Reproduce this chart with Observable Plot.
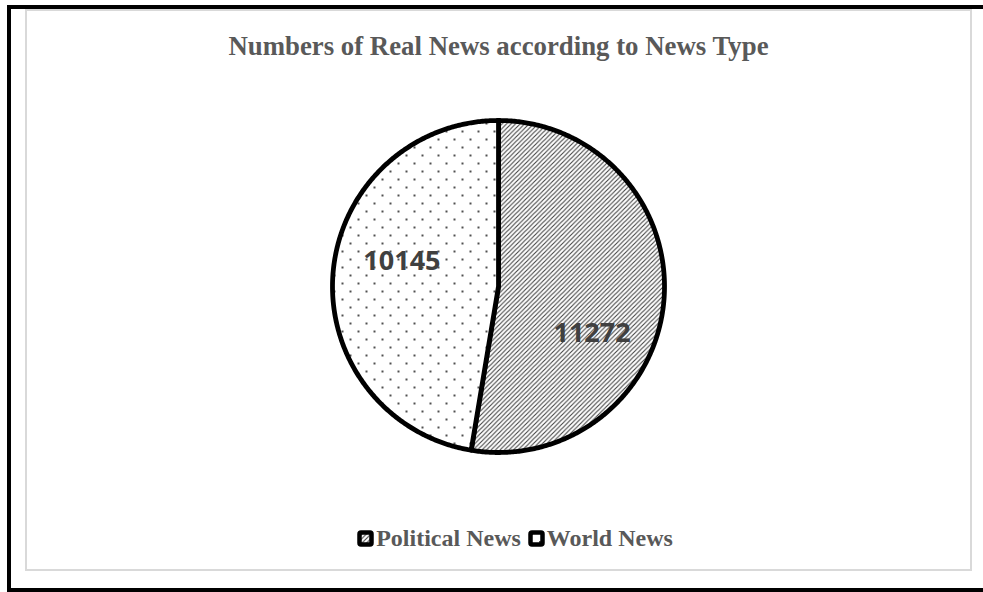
<!DOCTYPE html>
<html>
<head>
<meta charset="utf-8">
<script src="https://cdn.jsdelivr.net/npm/d3@7"></script>
<script src="https://cdn.jsdelivr.net/npm/@observablehq/plot@0.6"></script>
<style>
  html, body { margin: 0; padding: 0; width: 983px; height: 592px; overflow: hidden; background: #fff; }
  #bt { position: absolute; left: 7px; top: 5px; width: 976px; height: 4px; background: #000; }
  #bl { position: absolute; left: 7px; top: 5px; width: 4px; height: 587px; background: #000; }
  #bb { position: absolute; left: 7px; top: 588px; width: 976px; height: 4px; background: #000; }
  #cover { position: absolute; left: 974px; top: 10px; width: 9px; height: 577px; background: #fff; z-index: 10; }
  #frame { position: absolute; left: 25px; top: 9px; width: 947px; height: 562px; box-sizing: border-box;
           border: 2px solid #d9d9d9; }
  #title { position: absolute; left: 25px; width: 947px; top: 33px; text-align: center;
           font-family: "Liberation Serif", serif; font-weight: bold; font-size: 26.8px; line-height: 26px; color: #595959; }
  #chart { position: absolute; left: 26px; top: 95px; }
  #legend { position: absolute; left: 65px; width: 907px; top: 526px; display: flex; justify-content: center; align-items: center;
            font-family: "Liberation Serif", serif; font-weight: bold; font-size: 24px; line-height: 24px; color: #595959; }
  #legend .item { display: flex; align-items: center; margin: 0 7px 0 0; }
  #legend svg { margin-right: 2px; }
</style>
</head>
<body>
<div id="bt"></div>
<div id="bl"></div>
<div id="bb"></div>
<div id="frame"></div>
<div id="title">Numbers of Real News according to News Type</div>
<div id="chart"></div>
<div id="legend"></div>
<div id="cover"></div>
<script>
// ---- data ----
const newsTypes = ["Political News", "World News"];
const newsCounts = [11272, 10145];
const patternIds = ["hatch", "dots"];

const data = newsTypes.map((t, i) => ({type: t, count: newsCounts[i], pattern: patternIds[i]}));
const arcs = d3.pie().sort(null).value(d => d.count).startAngle(0).endAngle(2 * Math.PI)(data);

// polygon points for each slice (unit circle, y up)
function slicePoints(a) {
  const pts = [{x: 0, y: 0}];
  const n = Math.max(2, Math.ceil((a.endAngle - a.startAngle) / (Math.PI / 360)));
  for (let k = 0; k <= n; k++) {
    const t = a.startAngle + (a.endAngle - a.startAngle) * k / n;
    pts.push({x: Math.sin(t), y: Math.cos(t)});
  }
  pts.push({x: 0, y: 0});
  return pts;
}
const labels = arcs.map(a => {
  const m = (a.startAngle + a.endAngle) / 2;
  return {x: 0.62 * Math.sin(m), y: 0.62 * Math.cos(m), text: String(a.data.count), type: a.data.type};
});

const labelStyle = {fontFamily: "'Open Sans', sans-serif", fontWeight: "bold", fontSize: 27, fill: "#404040"};

const plot = Plot.plot({
  width: 946,
  height: 380,
  margin: 0,
  x: {domain: [-1, 1], range: [306, 638], axis: null},
  y: {domain: [-1, 1], range: [357, 25], axis: null},
  marks: [
    ...arcs.map(a => Plot.line(slicePoints(a), {x: "x", y: "y", fill: `url(#${a.data.pattern})`, stroke: "#000", strokeWidth: 4.8, strokeLinejoin: "round"})),
    Plot.text(labels.filter(d => d.type === newsTypes[0]), {x: "x", y: "y", text: "text", dx: -9, dy: 38, ...labelStyle}),
    Plot.text(labels.filter(d => d.type === newsTypes[1]), {x: "x", y: "y", text: "text", dx: 6, dy: -17, ...labelStyle})
  ]
});

// patterns
const defs = d3.select(plot).insert("defs", ":first-child");
const hatch = defs.append("pattern").attr("id", "hatch").attr("patternUnits", "userSpaceOnUse").attr("width", 4.5).attr("height", 4.5);
hatch.append("rect").attr("width", 4.5).attr("height", 4.5).attr("fill", "#fff");
hatch.append("path").attr("d", "M-1,1 l2,-2 M0,4.5 l4.5,-4.5 M3.5,5.5 l2,-2").attr("stroke", "#404040").attr("stroke-width", 1.1);
const dots = defs.append("pattern").attr("id", "dots").attr("patternUnits", "userSpaceOnUse").attr("width", 16).attr("height", 16);
dots.append("rect").attr("width", 16).attr("height", 16).attr("fill", "#fff");
dots.append("rect").attr("x", 3).attr("y", 3).attr("width", 2).attr("height", 2).attr("fill", "#505050");
dots.append("rect").attr("x", 11).attr("y", 11).attr("width", 2).attr("height", 2).attr("fill", "#505050");

document.getElementById("chart").appendChild(plot);

// legend
const legend = d3.select("#legend");
data.forEach(d => {
  const item = legend.append("div").attr("class", "item");
  const sw = item.append("svg").attr("width", 17).attr("height", 17);
  sw.append("rect").attr("x", 2.5).attr("y", 2.5).attr("width", 12).attr("height", 12).attr("rx", 1.5)
    .attr("fill", `url(#${d.pattern})`).attr("stroke", "#000").attr("stroke-width", 4.5);
  item.append("span").text(d.type);
});
</script>
</body>
</html>
